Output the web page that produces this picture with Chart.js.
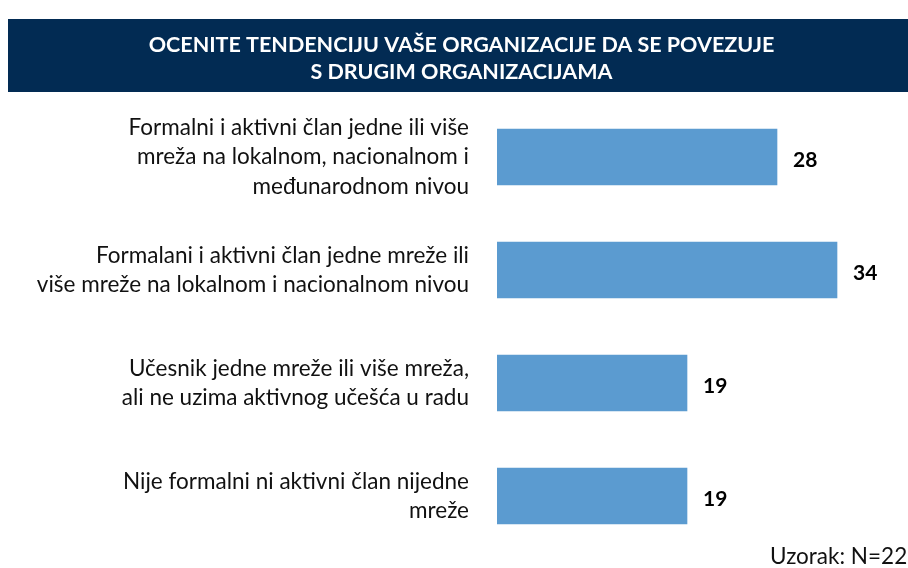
<!DOCTYPE html>
<html>
<head>
<meta charset="utf-8">
<script src="https://cdn.jsdelivr.net/npm/chart.js@4/dist/chart.umd.min.js"></script>
<style>
html,body{margin:0;padding:0;background:#fff;}
canvas{display:block;}
</style>
</head>
<body>
<canvas id="c" width="908" height="568"></canvas>
<script>
const titleLines = ["OCENITE TENDENCIJU VAŠE ORGANIZACIJE DA SE POVEZUJE", "S DRUGIM ORGANIZACIJAMA"];
const categories = [
  ["Formalni i aktivni član jedne ili više", "mreža na lokalnom, nacionalnom i", "međunarodnom nivou"],
  ["Formalani i aktivni član jedne mreže ili", "više mreže na lokalnom i nacionalnom nivou"],
  ["Učesnik jedne mreže ili više mreža,", "ali ne uzima aktivnog učešća u radu"],
  ["Nije formalni ni aktivni član nijedne", "mreže"]
];
const values = [28, 34, 19, 19];
const footnote = "Uzorak: N=225";

const FONT = "Lato, 'Open Sans', sans-serif";
const PAD_LEFT = 26;

const bandPlugin = {
  id: 'band',
  beforeDraw(chart) {
    const ctx = chart.ctx;
    ctx.save();
    ctx.fillStyle = '#022b53';
    ctx.fillRect(8, 19, 900, 73);
    ctx.restore();
  },
  afterDraw(chart) {
    const ctx = chart.ctx;
    ctx.save();
    ctx.fillStyle = '#111';
    ctx.font = "22.5px " + FONT;
    ctx.textAlign = 'left';
    ctx.textBaseline = 'middle';
    ctx.fillText(footnote, 770, 557);
    ctx.restore();
  }
};

const valueLabels = {
  id: 'valueLabels',
  afterDatasetsDraw(chart) {
    const ctx = chart.ctx;
    const meta = chart.getDatasetMeta(0);
    ctx.save();
    ctx.fillStyle = '#000';
    ctx.font = "bold 21px " + FONT;
    ctx.textAlign = 'left';
    ctx.textBaseline = 'middle';
    meta.data.forEach((bar, i) => {
      ctx.fillText(String(values[i]), bar.x + 16, bar.y + 3);
    });
    ctx.restore();
  }
};

new Chart(document.getElementById('c'), {
  type: 'bar',
  data: {
    labels: categories,
    datasets: [{
      data: values,
      backgroundColor: '#5b9bd0',
      borderWidth: 0,
      barThickness: 56
    }]
  },
  options: {
    indexAxis: 'y',
    responsive: false,
    devicePixelRatio: 1,
    animation: false,
    layout: { padding: { top: 0, right: 11, bottom: 15.5, left: PAD_LEFT } },
    plugins: {
      legend: { display: false },
      tooltip: { enabled: false },
      title: {
        display: true,
        text: titleLines,
        color: '#ffffff',
        font: { family: FONT, size: 21.5, weight: 'bold', lineHeight: 1.256 },
        padding: { top: 31.5, bottom: 15 }
      }
    },
    scales: {
      x: {
        display: false,
        min: 0,
        max: 40
      },
      y: {
        grid: { display: false, drawTicks: false },
        border: { display: false },
        ticks: {
          color: '#111',
          padding: 28,
          font: { family: FONT, size: 22.5, lineHeight: 1.3 }
        },
        afterFit(scale) {
          scale.width = 497 - PAD_LEFT;
          scale.paddingTop = 0;
          scale.paddingBottom = 0;
        }
      }
    }
  },
  plugins: [bandPlugin, valueLabels]
});
</script>
</body>
</html>
